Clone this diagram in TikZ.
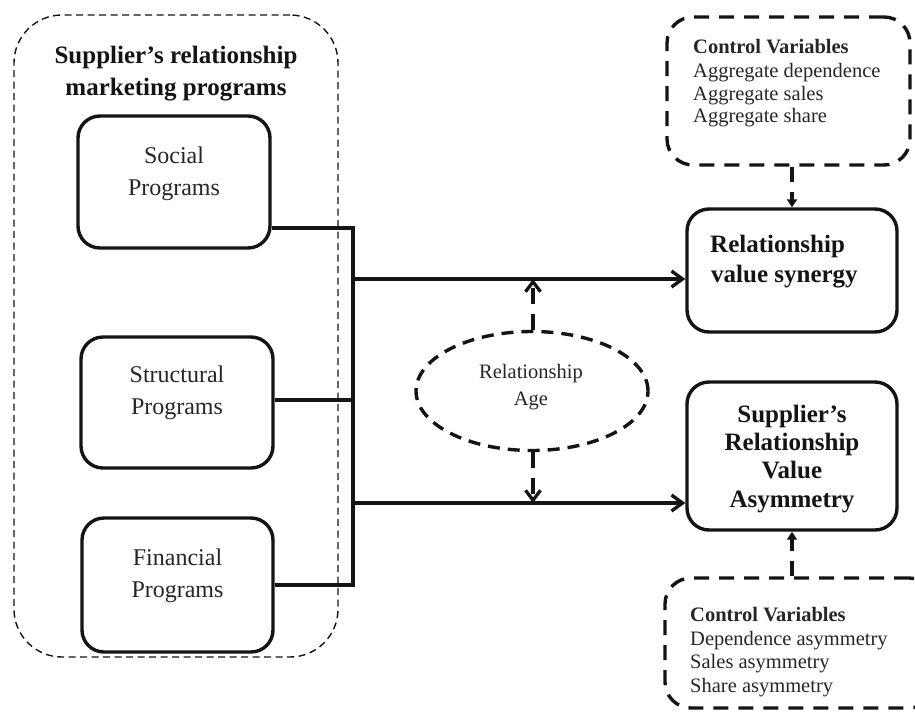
\documentclass[tikz,border=0pt]{standalone}
\usepackage{fontspec}
\setmainfont{Liberation Serif}
\usetikzlibrary{arrows.meta,shapes.geometric}
\definecolor{ink}{gray}{0.08}
\definecolor{txt}{gray}{0.15}
\begin{document}
\begin{tikzpicture}[x=1pt,y=-1pt,
  progbox/.style={draw=ink, line width=3.4pt, rounded corners=22pt, inner sep=0pt, rectangle},
  outerbox/.style={draw=ink, line width=1.4pt, dash pattern=on 7pt off 4.5pt, rounded corners=48pt, inner sep=0pt, rectangle},
  ctrlbox/.style={draw=ink, line width=3.4pt, dash pattern=on 15pt off 10pt, rounded corners=26pt, inner sep=0pt, rectangle},
  ageell/.style={draw=ink, line width=3.4pt, dash pattern=on 12pt off 8pt, ellipse, inner sep=0pt},
  conn/.style={draw=ink, line width=3.3pt},
  arr/.style={conn, -{Straight Barb[length=11pt,width=16pt,line width=3.3pt]}},
  modarr/.style={draw=ink, line width=3.3pt, dash pattern=on 16pt off 10pt, -{Straight Barb[length=10pt,width=15pt,line width=3.3pt]}},
  ctrlarr/.style={draw=ink, line width=3.3pt, dash pattern=on 15pt off 10pt, -{Triangle[length=8pt,width=10pt]}},
  big/.style={font=\fontsize{24}{29}\selectfont, text=txt, inner sep=0pt},
  bigb/.style={font=\fontsize{25}{29}\selectfont\bfseries, text=ink, inner sep=0pt},
  small/.style={font=\fontsize{20.5}{24}\selectfont, text=txt, inner sep=0pt},
  smallb/.style={font=\fontsize{20.5}{24}\selectfont\bfseries, text=txt, inner sep=0pt}
]
\useasboundingbox (0,0) rectangle (915,718);
\clip (0,0) rectangle (915,718);
\fill[white] (0,0) rectangle (915,718);

% outer group
\node[outerbox, minimum width=324pt, minimum height=642pt] (outer) at (176,336) {};
\node[bigb, anchor=base] (title1) at (176,63) {Supplier’s relationship};
\node[bigb, anchor=base] (title2) at (176,95) {marketing programs};

% program boxes
\node[progbox, minimum width=192pt, minimum height=132pt] (social) at (174,182) {};
\node[big, anchor=base] (soc1) at (174,163) {Social};
\node[big, anchor=base] (soc2) at (174,195) {Programs};

\node[progbox, minimum width=192pt, minimum height=131pt] (struct) at (177,402.5) {};
\node[big, anchor=base] (str1) at (177,382) {Structural};
\node[big, anchor=base] (str2) at (177,414) {Programs};

\node[progbox, minimum width=191pt, minimum height=134pt] (fin) at (177.5,585) {};
\node[big, anchor=base] (fin1) at (177.5,565) {Financial};
\node[big, anchor=base] (fin2) at (177.5,597) {Programs};

% outcome boxes
\node[progbox, minimum width=210pt, minimum height=123pt] (syn) at (792,270.5) {};
\node[bigb, anchor=base west] (syn1) at (710,252) {Relationship};
\node[bigb, anchor=base west] (syn2) at (711,282) {value synergy};

\node[progbox, minimum width=210pt, minimum height=148pt] (asym) at (792,456) {};
\node[bigb, anchor=base] (asy1) at (792,422) {Supplier’s};
\node[bigb, anchor=base] (asy2) at (792,450) {Relationship};
\node[bigb, anchor=base] (asy3) at (792,478) {Value};
\node[bigb, anchor=base] (asy4) at (792,507) {Asymmetry};

% control boxes
\node[ctrlbox, minimum width=243pt, minimum height=148pt] (ctrlA) at (788.5,91) {};
\node[smallb, anchor=base west] (ca1) at (693,53) {Control Variables};
\node[small, anchor=base west] (ca2) at (693,77) {Aggregate dependence};
\node[small, anchor=base west] (ca3) at (693,100) {Aggregate sales};
\node[small, anchor=base west] (ca4) at (693,122) {Aggregate share};

\node[ctrlbox, minimum width=270pt, minimum height=130pt] (ctrlB) at (800,643) {};
\node[smallb, anchor=base west] (cb1) at (690,621) {Control Variables};
\node[small, anchor=base west] (cb2) at (690,645) {Dependence asymmetry};
\node[small, anchor=base west] (cb3) at (690,668) {Sales asymmetry};
\node[small, anchor=base west] (cb4) at (690,692) {Share asymmetry};

% moderator
\node[ageell, minimum width=232pt, minimum height=119pt] (age) at (532,391) {};
\node[small, anchor=base] (age1) at (531,378) {Relationship};
\node[small, anchor=base] (age2) at (531,405) {Age};

% bus
\coordinate (b1) at (353,228);
\coordinate (b2) at (353,400);
\coordinate (b3) at (353,585);
\coordinate (bu) at (353,279);
\coordinate (bl) at (353,503);
\coordinate (mu) at (533,279);
\coordinate (ml) at (533,503);

\draw[conn] (social.east |- b1) -- (b1);
\draw[conn] (struct.east |- b2) -- (b2);
\draw[conn] (fin.east |- b3) -- (b3);
\draw[conn, line cap=rect] (b1) -- (b3);
\draw[arr] (bu) -- (syn.west |- bu);
\draw[arr] (bl) -- (asym.west |- bl);

% moderating arrows
\draw[modarr] (age.north -| mu) -- (mu);
\draw[modarr] (age.south -| ml) -- (ml);

% control arrows
\draw[ctrlarr] (ctrlA.south -| syn.north) -- (syn.north);
\draw[ctrlarr] (ctrlB.north -| asym.south) -- (asym.south);
\end{tikzpicture}
\end{document}
